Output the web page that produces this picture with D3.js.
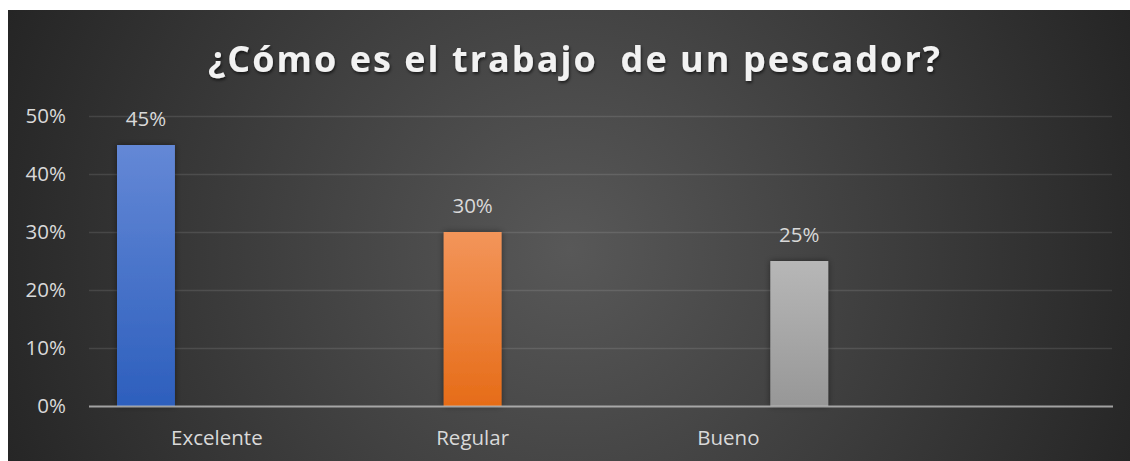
<!DOCTYPE html>
<html><head><meta charset="utf-8">
<script src="https://cdn.jsdelivr.net/npm/d3@7"></script>
<style>
html,body{margin:0;padding:0;background:#fff;}
svg{display:block;}
text{font-family:"Open Sans","Noto Sans",sans-serif;}
</style></head>
<body>
<script>
const titleText = "¿Cómo es el trabajo  de un pescador?";
const categories = ["Excelente", "Regular", "Bueno", ""];
const seriesNames = ["Excelente", "Regular", "Bueno"];
const seriesValues = [
  [0.45, null, null, null],
  [null, 0.30, null, null],
  [null, null, 0.25, null]
];
const yTicks = [0, 0.1, 0.2, 0.3, 0.4, 0.5];
const seriesColors = [["#6488d6", "#2d5fbd"], ["#f3955a", "#e66c18"], ["#b7b7b7", "#979797"]];

const W = 1130, H = 461;
const svg = d3.select("body").append("svg").attr("width", W).attr("height", H);
const defs = svg.append("defs");

const bg = defs.append("radialGradient").attr("id", "bg")
  .attr("gradientUnits", "userSpaceOnUse").attr("cx", 570).attr("cy", 250).attr("r", 610);
bg.append("stop").attr("offset", 0).attr("stop-color", "#585858");
bg.append("stop").attr("offset", 1).attr("stop-color", "#252525");

seriesColors.forEach((c, i) => {
  const g = defs.append("linearGradient").attr("id", "bar" + i).attr("x1", 0).attr("y1", 0).attr("x2", 0).attr("y2", 1);
  g.append("stop").attr("offset", 0).attr("stop-color", c[0]);
  g.append("stop").attr("offset", 1).attr("stop-color", c[1]);
});

const sh = defs.append("filter").attr("id", "shadow").attr("x", "-30%").attr("y", "-10%").attr("width", "160%").attr("height", "120%");
sh.append("feDropShadow").attr("dx", 0).attr("dy", 0).attr("stdDeviation", 3).attr("flood-color", "#000").attr("flood-opacity", 0.45);
const tsh = defs.append("filter").attr("id", "tshadow").attr("x", "-5%").attr("y", "-30%").attr("width", "110%").attr("height", "160%");
tsh.append("feDropShadow").attr("dx", 1).attr("dy", 2).attr("stdDeviation", 1.5).attr("flood-color", "#000").attr("flood-opacity", 0.6);

svg.append("rect").attr("x", 8).attr("y", 10).attr("width", W - 8).attr("height", H - 10).attr("fill", "url(#bg)");

const x = d3.scaleBand().domain(d3.range(categories.length)).range([89, 1112]).paddingInner(0).paddingOuter(0);
const xs = d3.scaleBand().domain(d3.range(seriesNames.length)).range([28, x.bandwidth() - 28]).paddingInner(13 / 71).paddingOuter(0);
const y = d3.scaleLinear().domain([0, 0.5]).range([406, 116]);

// gridlines
svg.append("g").selectAll("line").data(yTicks.filter(d => d > 0)).join("line")
  .attr("x1", 89).attr("x2", 1112)
  .attr("y1", d => Math.round(y(d)) + 0.5).attr("y2", d => Math.round(y(d)) + 0.5)
  .attr("stroke", "#fff").attr("stroke-opacity", 0.11).attr("stroke-width", 1.5);

// y axis labels
const yAxis = d3.axisLeft(y).tickValues(yTicks).tickFormat(d3.format(".0%")).tickSize(0).tickPadding(0);
const ya = svg.append("g").attr("transform", "translate(66,0)").call(yAxis);
ya.select(".domain").remove();
ya.selectAll("text").attr("fill", "#d9d9d9").style("font-size", "20.5px").attr("dy", "0.34em");

// bars
const bars = [];
seriesValues.forEach((vals, si) => vals.forEach((v, ci) => { if (v != null) bars.push({ si, ci, v }); }));
svg.append("g").selectAll("rect").data(bars).join("rect")
  .attr("x", d => x(d.ci) + xs(d.si)).attr("width", xs.bandwidth())
  .attr("y", d => y(d.v)).attr("height", d => y(0) - y(d.v))
  .attr("fill", d => `url(#bar${d.si})`).attr("filter", "url(#shadow)");

// x axis
const xAxis = d3.axisBottom(x).tickFormat(i => categories[i]).tickSize(0).tickPadding(0);
const xa = svg.append("g").attr("transform", "translate(0,406)").call(xAxis);
xa.select(".domain").remove();
xa.selectAll("text").attr("fill", "#d9d9d9").style("font-size", "20.5px").attr("y", 39).attr("dy", 0);
svg.append("line").attr("x1", 89).attr("x2", 1113).attr("y1", 406.5).attr("y2", 406.5)
  .attr("stroke", "#bfbfbf").attr("stroke-opacity", 0.8).attr("stroke-width", 2.2);

// data labels
svg.append("g").selectAll("text").data(bars).join("text")
  .attr("x", d => x(d.ci) + xs(d.si) + xs.bandwidth() / 2)
  .attr("y", d => y(d.v) - 19)
  .attr("text-anchor", "middle").attr("fill", "#d9d9d9").style("font-size", "20.5px")
  .text(d => d3.format(".0%")(d.v));

// title
svg.append("text").attr("x", 208).attr("y", 72)
  .attr("textLength", 732).attr("lengthAdjust", "spacing")
  .style("white-space", "pre").attr("xml:space", "preserve")
  .style("font-size", "36px").style("font-weight", "700")
  .attr("fill", "#f2f2f2").attr("filter", "url(#tshadow)")
  .text(titleText);
</script>
</body></html>
